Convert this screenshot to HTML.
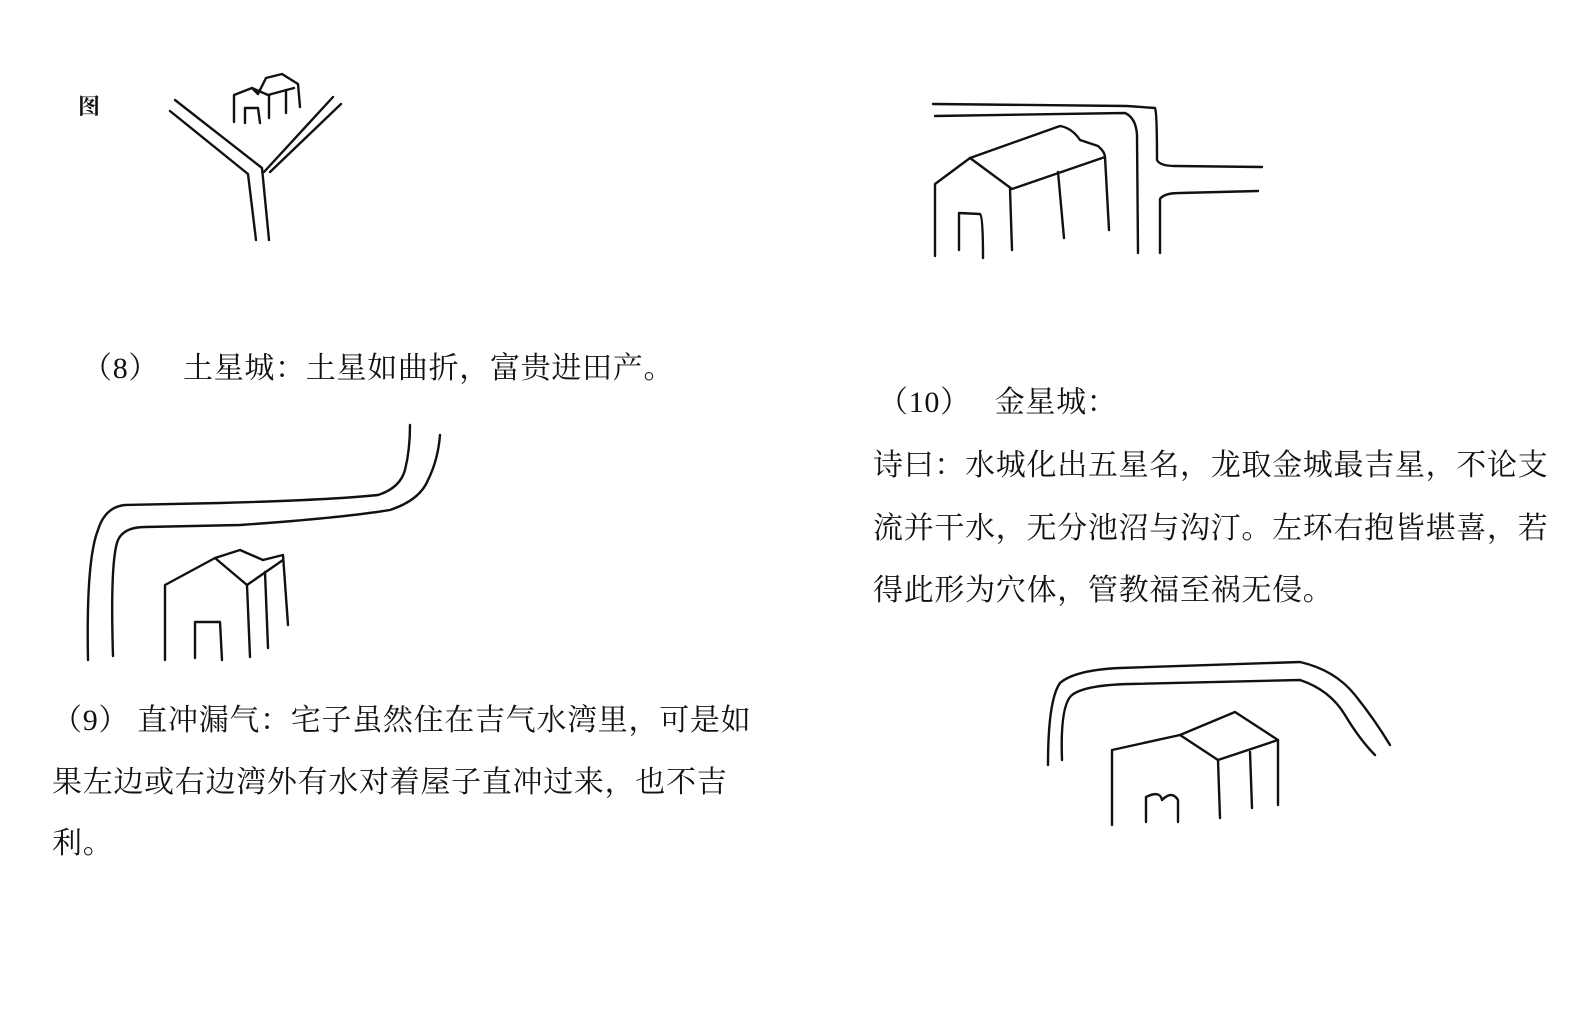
<!DOCTYPE html>
<html><head><meta charset="utf-8"><style>
html,body{margin:0;padding:0;background:#fff;}
body{width:1581px;height:1018px;position:relative;overflow:hidden;font-family:"Liberation Serif","Noto Serif CJK SC",serif;color:#111;}
.t{position:absolute;font-size:30px;white-space:nowrap;line-height:1;letter-spacing:0.7px;}
svg{position:absolute;left:0;top:0;}
</style></head><body>
<svg width="1581" height="1018" fill="none" stroke="#111" stroke-width="2.4" stroke-linecap="round" stroke-linejoin="round">
<path d="M175,100 L262,168 L269,240"/>
<path d="M170,111 L248,174 L256,240"/>
<path d="M264,172 L333,97"/>
<path d="M270,172 L341,104"/>
<path d="M234,122 L234,95 L252,88 L258,94 L266,78 L282,74 L298,84 L300,107"/>
<path d="M252,88 L268,95 L294,88"/>
<path d="M269,95 L269,118"/><path d="M286,90 L286,113"/>
<path d="M245,123 L245,108 L258,108 L260,123"/>
<path d="M933,104 L1127,106 L1155,108 Q1157,112 1157,160 Q1160,166 1175,166 L1262,167"/>
<path d="M935,116 L1125,113 Q1136,118 1137,135 L1138,253"/>
<path d="M1160,253 L1160,199 Q1164,193 1180,193 L1258,191"/>
<path d="M935,256 L935,184 L970,158 L1012,189 L1105,157 L1109,230"/>
<path d="M970,158 L1060,126 Q1072,128 1080,140 L1098,146 Q1105,152 1105,157"/>
<path d="M1010,189 L1012,250"/><path d="M1058,172 L1064,238"/>
<path d="M959,250 L959,213 L980,214 Q983,216 983,258"/>
<path d="M88,660 Q86,560 98,530 Q105,507 125,505 L220,503 Q330,500 378,495 Q400,488 405,470 Q410,450 410,425"/>
<path d="M113,656 Q110,560 118,540 Q124,527 145,527 L240,525 Q340,518 390,510 Q420,500 428,480 Q438,460 440,435"/>
<path d="M165,660 L165,585 L215,558 L240,550 L263,560 L283,555 L288,625"/>
<path d="M215,558 L247,585 L283,560"/>
<path d="M247,585 L250,657"/><path d="M265,572 L268,648"/>
<path d="M195,658 L195,622 L220,622 L222,660"/>
<path d="M1048,765 Q1048,700 1060,683 Q1075,670 1120,668 L1300,662 Q1335,670 1355,695 Q1375,720 1390,745"/>
<path d="M1062,760 Q1060,705 1072,695 Q1085,685 1130,684 L1300,680 Q1330,690 1345,715 Q1360,740 1375,755"/>
<path d="M1112,825 L1112,750 L1180,735 L1235,712 L1278,740 L1278,805"/>
<path d="M1180,735 L1218,760 L1278,740"/>
<path d="M1218,760 L1220,818"/><path d="M1250,752 L1252,808"/>
<path d="M1146,822 L1146,797 Q1160,790 1162,800 Q1172,790 1178,800 L1178,822"/>
</svg>
<div class="t" style="left:78px;top:96px;font-size:22px;font-weight:bold;">图</div>
<div class="t" style="left:82px;top:354px;">（8）　 土星城：土星如曲折，富贵进田产。</div>
<div class="t" style="left:52px;top:706px;">（9） 直冲漏气：宅子虽然住在吉气水湾里，可是如</div>
<div class="t" style="left:52px;top:768px;">果左边或右边湾外有水对着屋子直冲过来，也不吉</div>
<div class="t" style="left:52px;top:829px;">利。</div>
<div class="t" style="left:878px;top:388px;">（10）　 金星城：</div>
<div class="t" style="left:873px;top:451px;">诗曰：水城化出五星名，龙取金城最吉星，不论支</div>
<div class="t" style="left:873px;top:514px;">流并干水，无分池沼与沟汀。左环右抱皆堪喜，若</div>
<div class="t" style="left:873px;top:576px;">得此形为穴体，管教福至祸无侵。</div>
</body></html>
